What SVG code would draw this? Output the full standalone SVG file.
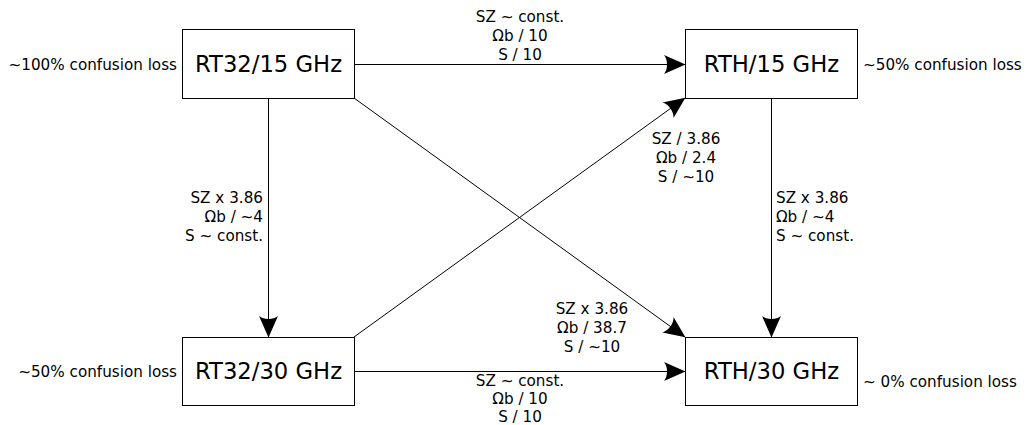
<svg xmlns="http://www.w3.org/2000/svg" width="1026" height="425" viewBox="0 0 1026 425">
<style>
.box{fill:#fff;stroke:#000;stroke-width:1}
.bl{font-family:"DejaVu Sans",sans-serif;font-size:22.7px;fill:#000;text-anchor:middle}
.t{font-family:"DejaVu Sans",sans-serif;font-size:15.2px;fill:#000}
.c{text-anchor:middle}
.r{text-anchor:end}
.e{stroke:#000;stroke-width:1;fill:none;marker-end:url(#ah)}
</style>
<defs>
<marker id="ah" markerUnits="userSpaceOnUse" markerWidth="24" markerHeight="22" viewBox="0 0 24 22" refX="21" refY="11" orient="auto">
<path d="M21.5,11 L0,1.5 C4,6 4,16 0,20.5 Z" fill="#000"/>
</marker>
</defs>
<rect width="1026" height="425" fill="#fff"/>
<g id="connectors">
<line class="e" x1="354" y1="64.5" x2="685" y2="64.5"/>
<line class="e" x1="354" y1="371.5" x2="685" y2="371.5"/>
<line class="e" x1="268.5" y1="98" x2="268.5" y2="337"/>
<line class="e" x1="771.5" y1="98" x2="771.5" y2="337"/>
<line class="e" x1="354" y1="98" x2="685" y2="337"/>
<line class="e" x1="354" y1="337" x2="685" y2="98"/>
<text class="t c" x="520" y="22">SZ ~ const.</text>
<text class="t c" x="520" y="41">Ωb / 10</text>
<text class="t c" x="520" y="60">S / 10</text>
<text class="t r" x="263" y="203">SZ x 3.86</text>
<text class="t r" x="263" y="222">Ωb / ~4</text>
<text class="t r" x="263" y="241">S ~ const.</text>
<text class="t" x="776" y="203">SZ x 3.86</text>
<text class="t" x="776" y="222">Ωb / ~4</text>
<text class="t" x="776" y="241">S ~ const.</text>
<text class="t c" x="686" y="144">SZ / 3.86</text>
<text class="t c" x="686" y="163">Ωb / 2.4</text>
<text class="t c" x="686" y="182">S / ~10</text>
<text class="t c" x="592" y="314">SZ x 3.86</text>
<text class="t c" x="592" y="333">Ωb / 38.7</text>
<text class="t c" x="592" y="352">S / ~10</text>
<text class="t c" x="520" y="386">SZ ~ const.</text>
<text class="t c" x="520" y="404">Ωb / 10</text>
<text class="t c" x="520" y="422">S / 10</text>
</g>
<g id="rt32-15">
<rect class="box" x="182.5" y="29.5" width="172" height="69"/>
<text class="bl" x="268.5" y="72">RT32/15 GHz</text>
<text class="t r" x="177" y="70">~100% confusion loss</text>
</g>
<g id="rth-15">
<rect class="box" x="685.5" y="29.5" width="172" height="69"/>
<text class="bl" x="771.5" y="72">RTH/15 GHz</text>
<text class="t" x="863" y="70">~50% confusion loss</text>
</g>
<g id="rt32-30">
<rect class="box" x="182.5" y="337.5" width="172" height="68"/>
<text class="bl" x="268.5" y="379">RT32/30 GHz</text>
<text class="t r" x="177" y="377">~50% confusion loss</text>
</g>
<g id="rth-30">
<rect class="box" x="685.5" y="337.5" width="172" height="68"/>
<text class="bl" x="771.5" y="379">RTH/30 GHz</text>
<text class="t" x="863" y="387">~ 0% confusion loss</text>
</g>
</svg>
